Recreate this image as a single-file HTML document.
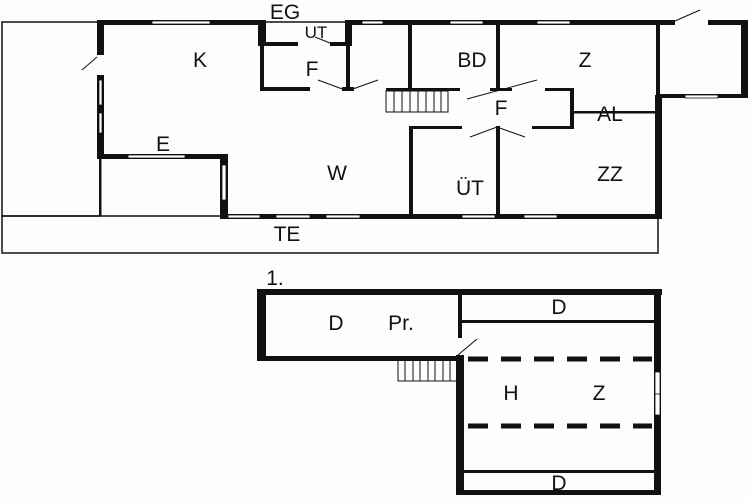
<!DOCTYPE html>
<html><head><style>
html,body{margin:0;padding:0;background:#fff;}
svg{display:block;}
text{font-family:"Liberation Sans",sans-serif;fill:#111;}
</style></head><body>
<svg width="750" height="500" viewBox="0 0 750 500" xmlns="http://www.w3.org/2000/svg">
<rect width="750" height="500" fill="#fdfdfd"/>
<g fill="none" stroke="#111" stroke-width="1.5">
<polyline points="100,22 2,22 2,216 100,216"/>
<rect x="2" y="216" width="656" height="37"/>
<line x1="265" y1="22" x2="345" y2="22"/>
</g>
<g fill="#111">
<rect x="97" y="20" width="168" height="5"/>
<rect x="345" y="20" width="330" height="5"/>
<rect x="708" y="20" width="40" height="5"/>
<rect x="97" y="20" width="7" height="35"/>
<rect x="97" y="75" width="7" height="83"/>
<rect x="97" y="154" width="131" height="5"/>
<rect x="220" y="154" width="8" height="64"/>
<rect x="99" y="158" width="2.5" height="58"/>
<rect x="220" y="214" width="442" height="5"/>
<rect x="258" y="20" width="8" height="26"/>
<rect x="345" y="20" width="7" height="26"/>
<rect x="260" y="42" width="38" height="4"/>
<rect x="330" y="42" width="20" height="4"/>
<rect x="260" y="45" width="4" height="46"/>
<rect x="260" y="87" width="50" height="4"/>
<rect x="346" y="45" width="4" height="46"/>
<rect x="342" y="87" width="12" height="4"/>
<rect x="408" y="22" width="4" height="69"/>
<rect x="496" y="22" width="4" height="69"/>
<rect x="386" y="88" width="74" height="3"/>
<rect x="490" y="88" width="22" height="3"/>
<rect x="545" y="88" width="29" height="3"/>
<rect x="570" y="88" width="4" height="41"/>
<rect x="573" y="111" width="84" height="2.5"/>
<rect x="409" y="126" width="53" height="3"/>
<rect x="532" y="126" width="42" height="3"/>
<rect x="409" y="126" width="4" height="90"/>
<rect x="496" y="126" width="4" height="90"/>
<rect x="656" y="20" width="4" height="80"/>
<rect x="655" y="95" width="7" height="123"/>
<rect x="741" y="20" width="7" height="78"/>
<rect x="660" y="94" width="88" height="4"/>
<rect x="257" y="289" width="405" height="6"/>
<rect x="257" y="289" width="9" height="72"/>
<rect x="257" y="356" width="205" height="5"/>
<rect x="458" y="289" width="4" height="49"/>
<rect x="456" y="355" width="8" height="140"/>
<rect x="654" y="289" width="7" height="206"/>
<rect x="456" y="490" width="205" height="5"/>
<rect x="462" y="320" width="192" height="3"/>
<rect x="462" y="470" width="192" height="3"/>
</g>
<g fill="#fff" stroke="#111" stroke-width="0.8">
<rect x="152" y="21" width="58" height="3"/>
<rect x="362" y="21" width="21" height="3"/>
<rect x="450" y="21" width="33" height="3"/>
<rect x="537" y="21" width="33" height="3"/>
<rect x="99" y="80" width="3" height="25"/>
<rect x="99" y="113" width="3" height="20"/>
<rect x="128" y="155" width="57" height="3"/>
<rect x="222" y="165" width="4" height="35"/>
<rect x="228" y="215" width="32" height="3"/>
<rect x="276" y="215" width="34" height="3"/>
<rect x="326" y="215" width="34" height="3"/>
<rect x="462" y="215" width="33" height="3"/>
<rect x="524" y="215" width="33" height="3"/>
<rect x="685" y="95" width="33" height="3"/>
<rect x="655" y="372" width="5" height="22"/>
<rect x="655" y="394" width="5" height="21"/>
</g>
<g stroke="#111" stroke-width="1" fill="none">
<line x1="97" y1="57" x2="82" y2="70"/>
<line x1="315" y1="37" x2="330" y2="43"/>
<line x1="318" y1="80" x2="345" y2="90"/>
<line x1="350" y1="90" x2="378" y2="80"/>
<line x1="467" y1="99" x2="537" y2="80"/>
<line x1="470" y1="137" x2="497" y2="127"/>
<line x1="497" y1="127" x2="525" y2="137"/>
<line x1="675" y1="21" x2="700" y2="10"/>
<line x1="458" y1="355" x2="477" y2="339"/>
<rect x="386" y="91" width="62" height="21"/>
<path d="M394,91V112M402,91V112M410,91V112M418,91V112M426,91V112M434,91V112M441,91V112"/>
<path d="M398,361V381H456M405,361V381M413,361V381M420,361V381M428,361V381M435,361V381M443,361V381M450,361V381"/>
</g>
<g stroke="#111" stroke-width="5" stroke-dasharray="20,13">
<line x1="468" y1="359" x2="652" y2="359"/>
<line x1="468" y1="426" x2="652" y2="426"/>
</g>
<g font-size="21" text-anchor="middle">
<text x="285" y="19">EG</text>
<text x="316" y="38" font-size="17">UT</text>
<text x="200" y="67">K</text>
<text x="312" y="76">F</text>
<text x="472" y="67">BD</text>
<text x="585" y="67">Z</text>
<text x="501" y="115">F</text>
<text x="610" y="121">AL</text>
<text x="163" y="151">E</text>
<text x="337" y="180">W</text>
<text x="470" y="195">ÜT</text>
<text x="610" y="181">ZZ</text>
<text x="287" y="241">TE</text>
<text x="275" y="285">1.</text>
<text x="336" y="330">D</text>
<text x="401" y="330">Pr.</text>
<text x="559" y="314">D</text>
<text x="511" y="400">H</text>
<text x="599" y="400">Z</text>
<text x="559" y="490">D</text>
</g>
</svg>
</body></html>
